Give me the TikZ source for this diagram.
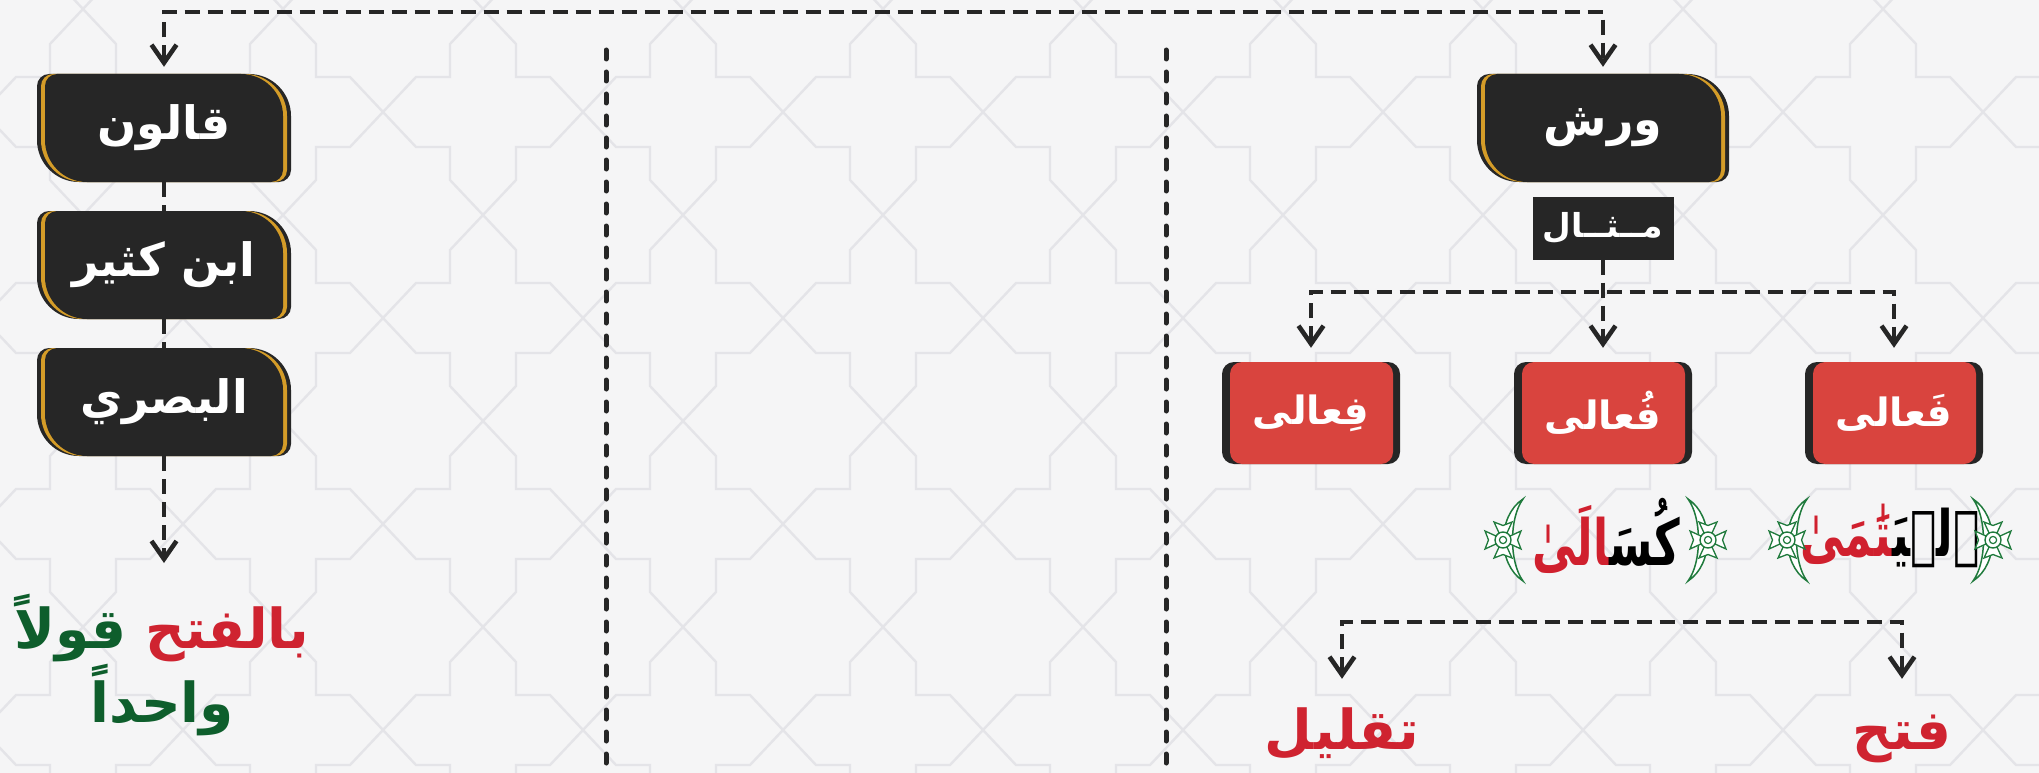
\documentclass[tikz,border=0pt]{standalone}
\usepackage{fontspec}
\usetikzlibrary{arrows.meta,calc}
\TeXXeTstate=1
\newfontfamily\arb[Script=Arabic]{DejaVu Sans}
\definecolor{bg}{HTML}{F5F5F6}
\definecolor{patline}{HTML}{E4E4E8}
\definecolor{boxdark}{HTML}{262626}
\definecolor{gold}{HTML}{D49C28}
\definecolor{boxred}{HTML}{D9443E}
\definecolor{txtred}{HTML}{CF2330}
\definecolor{txtgreen}{HTML}{0E5E2C}
\definecolor{qred}{HTML}{D0202E}
\definecolor{brgreen}{HTML}{1F7A3C}
% leaf-shaped box outline: x1, x2, ybottom, ytop
\newcommand\leafshape[4]{(#1,#4-12) arc[start angle=180,end angle=90,radius=12pt] -- (#2-42,#4) arc[start angle=90,end angle=0,radius=42pt] -- (#2,#3+12) arc[start angle=0,end angle=-90,radius=12pt] -- (#1+42,#3) arc[start angle=270,end angle=180,radius=42pt] -- cycle}
\newcommand\leafbox[4]{%
  \fill[boxdark] \leafshape{#1}{#2}{#3}{#4};
  \fill[gold] \leafshape{#1+4}{#2-4}{#3}{#4};
  \fill[boxdark] \leafshape{#1+8}{#2-8}{#3}{#4};}
\newcommand\redbox[4]{%
  \fill[boxdark, rounded corners=12pt] (#1,#3) rectangle (#2,#4);
  \fill[boxred, rounded corners=12pt] (#1+8,#3) rectangle (#2-7,#4);}
\tikzset{
  qbr/.pic={
    \draw[brgreen, line width=1.5pt, fill=white] (20,41) .. controls (-6,24) and (-6,-24) .. (20,-41) .. controls (6,-22) and (6,22) .. (20,41) -- cycle;
    \foreach \a in {0,90,180,270}{
      \draw[brgreen, line width=1.3pt, fill=white, rotate=\a] (6,-3.5) -- (18,-9) -- (14.5,0) -- (18,9) -- (6,3.5) -- cycle;}
    \draw[brgreen, line width=1.4pt, fill=white] (0,0) circle (8pt);
    \draw[brgreen, line width=1.2pt, fill=white] (0,0) circle (3.6pt);
  }
}
\begin{document}
\begin{tikzpicture}[x=1pt,y=1pt,
  >={Straight Barb[length=18pt,width=25pt]},
  conn/.style={draw=boxdark, line width=4.6pt, dash pattern=on 15pt off 8pt},
  sepline/.style={draw=boxdark, line width=5pt, dash pattern=on 9pt off 13pt, line cap=round},
  patl/.style={draw=patline, line width=2.4pt},
  leaflbl/.style={font=\arb\bfseries\fontsize{46}{54}\selectfont, text=white, inner sep=0pt, minimum width=254pt, minimum height=108pt},
  redlbl/.style={font=\arb\bfseries\fontsize{39}{44}\selectfont, text=white, inner sep=0pt, minimum width=178pt, minimum height=102pt},
  mlbl/.style={font=\arb\bfseries\fontsize{33}{38}\selectfont, text=white, fill=boxdark, inner sep=0pt, minimum width=141pt, minimum height=63pt},
  bigtxt/.style={font=\arb\bfseries\fontsize{55}{64}\selectfont, inner sep=0pt, text height=44pt, text depth=14pt, anchor=base},
  qtxt/.style={font=\arb\bfseries\fontsize{44}{52}\selectfont, inner sep=0pt, yscale=1.45, transform shape},
]
\useasboundingbox (0,0) rectangle (2039,-773);
% background
\fill[bg] (0,0) rectangle (2039,-773);
\begin{scope}
\clip (0,0) rectangle (2039,-773);
\foreach \i in {-1,...,10}{\foreach \j in {-1,...,3}{
  \draw[patl] (183+200*\i,-112-206*\j) -- ++(33,-35) -- ++(34,0) -- ++(0,-33) -- ++(33,-35)
              (183+200*\i,-112-206*\j) -- ++(33,35) -- ++(34,0) -- ++(0,33) -- ++(33,35)
              (183+200*\i,-112-206*\j) -- ++(-33,-35) -- ++(-34,0) -- ++(0,-33) -- ++(-33,-35)
              (183+200*\i,-112-206*\j) -- ++(-33,35) -- ++(-34,0) -- ++(0,33) -- ++(-33,35);
}}
\end{scope}
% left column boxes
\leafbox{37}{291}{-182}{-74}
\leafbox{37}{291}{-319}{-211}
\leafbox{37}{291}{-456}{-348}
\node[leaflbl] (qalun) at (164,-128) {\beginR قالون\endR};
\node[leaflbl] (ibnkathir) at (164,-265) {\beginR ابن كثير\endR};
\node[leaflbl] (basri) at (164,-402) {\beginR البصري\endR};
% warsh
\leafbox{1477}{1729}{-182}{-74}
\node[leaflbl, minimum width=252pt] (warsh) at (1603,-128) {\beginR ورش\endR};
\node[mlbl] (mithal) at (1603,-228) {\beginR مــثــال\endR};
% red boxes
\redbox{1222}{1400}{-464}{-362}
\redbox{1514}{1692}{-464}{-362}
\redbox{1805}{1983}{-464}{-362}
\node[redlbl] (fa) at (1311,-413) {\beginR فِعالى\endR};
\node[redlbl] (fb) at (1603,-413) {\beginR فُعالى\endR};
\node[redlbl] (fc) at (1894,-413) {\beginR فَعالى\endR};
% quranic words
\node[qtxt] (w1) at (1606,-536) {{\color{qred}^^^^200dالَىٰ}كُسَ^^^^200d};
\node[qtxt] (w2) at (1890,-536) {{\color{qred}^^^^200dتَٰمَىٰ}ٱلۡيَ^^^^200d};
\pic at (1503,-540) {qbr};
\pic[xscale=-1] at (1708,-540) {qbr};
\pic at (1787,-540) {qbr};
\pic[xscale=-1] at (1993,-540) {qbr};
% results
\node[bigtxt] (res1) at (162,-648) {{\color{txtgreen}قولاً} {\color{txtred}بالفتح}};
\node[bigtxt, text=txtgreen] (res2) at (162,-722) {\beginR واحداً\endR};
\node[bigtxt, text=txtred] (taqlil) at (1342,-749) {\beginR تقليل\endR};
\node[bigtxt, text=txtred] (fath) at (1902,-749) {\beginR فتح\endR};
% separators
\coordinate (s1a) at (606,-50); \coordinate (s1b) at (606,-780);
\coordinate (s2a) at (1166,-50); \coordinate (s2b) at (1166,-780);
\draw[sepline] (s1a) -- (s1b);
\draw[sepline] (s2a) -- (s2b);
% connectors
\coordinate (tc) at (1603,-12);
\draw[conn, <->, shorten <=7pt, shorten >=7pt] (qalun.north) |- (tc) -- (warsh.north);
\draw[conn] (qalun.south) -- (ibnkathir.north);
\draw[conn] (ibnkathir.south) -- (basri.north);
\coordinate (restip) at (164,-563);
\draw[conn, ->] (basri.south) -- (restip);
\draw[conn, ->, shorten >=14pt] (mithal.south) -- (fb.north);
\coordinate (sp) at (1603,-292);
\draw[conn, <->, shorten <=14pt, shorten >=14pt] (fa.north) |- (sp) -| (fc.north);
\coordinate (bs) at (1620,-622);
\draw[conn, <->, shorten <=26pt, shorten >=26pt] (taqlil.north) |- (bs) -| (fath.north);
\end{tikzpicture}
\end{document}
